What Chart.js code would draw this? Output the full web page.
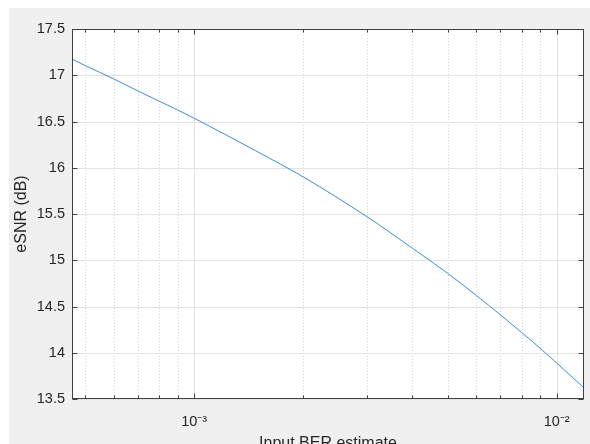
<!DOCTYPE html>
<html><head><meta charset="utf-8">
<script src="https://cdn.jsdelivr.net/npm/chart.js@4.4.0/dist/chart.umd.min.js"></script>
<style>
html,body{margin:0;padding:0;background:#fff;overflow:hidden;width:590px;height:444px;}
#wrap{position:absolute;left:9px;top:8px;width:581px;height:436px;background:#f0f0f0;}
canvas{display:block;}
</style></head><body>
<div id="wrap"><canvas id="c" width="581" height="436"></canvas></div>
<script>
// Data
const berValues  = [4.6e-4, 5e-4, 6e-4, 7e-4, 8e-4, 9e-4, 1e-3, 1.5e-3, 2e-3, 3e-3, 4e-3, 5e-3, 6e-3, 7e-3, 8e-3, 9e-3, 1e-2, 1.19e-2];
const esnrValues = [17.175, 17.105, 16.96, 16.83, 16.72, 16.625, 16.535, 16.17, 15.90, 15.47, 15.13, 14.86, 14.62, 14.41, 14.22, 14.05, 13.89, 13.62];

// Axis definitions
const xMin = 4.6e-4, xMax = 1.19e-2;
const xMajorTicks = [1e-3, 1e-2];
const xMajorLabels = ['10\u207B\u00B3', '10\u207B\u00B2'];
const xMinorTicks = [5e-4, 6e-4, 7e-4, 8e-4, 9e-4, 2e-3, 3e-3, 4e-3, 5e-3, 6e-3, 7e-3, 8e-3, 9e-3];
const yMin = 13.5, yMax = 17.5, yStep = 0.5;
const xTitle = 'Input BER estimate';
const yTitle = 'eSNR (dB)';

const points = berValues.map((b, i) => ({x: b, y: esnrValues[i]}));
const textColor = '#262626';
const fontFamily = '"Liberation Sans", Arial, Helvetica, sans-serif';

const matlabAxes = {
  id: 'matlabAxes',
  beforeDraw(chart) {
    const {ctx, chartArea: a} = chart;
    ctx.save();
    ctx.fillStyle = '#ffffff';
    ctx.fillRect(a.left, a.top, a.right - a.left, a.bottom - a.top);
    ctx.restore();
  },
  beforeDatasetsDraw(chart) {
    const {ctx, chartArea: a, scales: {x, y}} = chart;
    ctx.save();
    ctx.lineWidth = 1;
    ctx.strokeStyle = '#d6d6d6';
    ctx.setLineDash([1, 2]);
    xMinorTicks.forEach(v => {
      const px = Math.round(x.getPixelForValue(v)) + 0.5;
      ctx.beginPath(); ctx.moveTo(px, a.top); ctx.lineTo(px, a.bottom); ctx.stroke();
    });
    ctx.setLineDash([]);
    ctx.strokeStyle = '#e3e3e3';
    xMajorTicks.forEach(v => {
      const px = Math.round(x.getPixelForValue(v)) + 0.5;
      ctx.beginPath(); ctx.moveTo(px, a.top); ctx.lineTo(px, a.bottom); ctx.stroke();
    });
    y.ticks.forEach(t => {
      const py = Math.round(y.getPixelForValue(t.value)) + 0.5;
      ctx.beginPath(); ctx.moveTo(a.left, py); ctx.lineTo(a.right, py); ctx.stroke();
    });
    ctx.restore();
  },
  afterDatasetsDraw(chart) {
    const {ctx, chartArea: a, scales: {x, y}} = chart;
    ctx.save();
    ctx.lineWidth = 1;
    ctx.strokeStyle = '#404040';
    const L = Math.round(a.left) + 0.5, R = Math.round(a.right) - 0.5;
    const T = Math.round(a.top) + 0.5, B = Math.round(a.bottom) - 0.5;
    ctx.strokeRect(L, T, R - L, B - T);
    const tick = (px, len) => {
      ctx.beginPath(); ctx.moveTo(px, B); ctx.lineTo(px, B - len); ctx.stroke();
      ctx.beginPath(); ctx.moveTo(px, T); ctx.lineTo(px, T + len); ctx.stroke();
    };
    xMajorTicks.forEach(v => tick(Math.round(x.getPixelForValue(v)) + 0.5, 5));
    xMinorTicks.forEach(v => tick(Math.round(x.getPixelForValue(v)) + 0.5, 3));
    y.ticks.forEach(t => {
      const py = Math.round(y.getPixelForValue(t.value)) + 0.5;
      ctx.beginPath(); ctx.moveTo(L, py); ctx.lineTo(L + 5, py); ctx.stroke();
      ctx.beginPath(); ctx.moveTo(R, py); ctx.lineTo(R - 5, py); ctx.stroke();
    });
    ctx.restore();
  }
};

new Chart(document.getElementById('c'), {
  type: 'line',
  data: {
    datasets: [{
      data: points,
      borderColor: '#3a8fd6',
      borderWidth: 1,
      pointRadius: 0,
      fill: false,
      cubicInterpolationMode: 'monotone'
    }]
  },
  options: {
    responsive: false,
    animation: false,
    events: [],
    layout: {padding: {top: 21, right: 6, left: 0, bottom: 0}},
    plugins: {legend: {display: false}, tooltip: {enabled: false}},
    scales: {
      x: {
        type: 'logarithmic',
        min: xMin, max: xMax,
        afterBuildTicks: (scale) => {
          scale.ticks = xMajorTicks.map(v => ({value: v, major: true}));
        },
        afterFit: (scale) => { scale.height = 45; },
        grid: {display: false, drawTicks: false},
        border: {display: false},
        ticks: {
          autoSkip: false, maxRotation: 0, padding: 14,
          color: textColor,
          font: {family: fontFamily, size: 14.5},
          callback: (v) => {
            const i = xMajorTicks.findIndex(m => Math.abs(m - v) / m < 1e-6);
            return i >= 0 ? xMajorLabels[i] : '';
          }
        },
        title: {
          display: true, text: xTitle, color: textColor,
          font: {family: fontFamily, size: 16},
          padding: {top: 0, bottom: -9.6}
        }
      },
      y: {
        type: 'linear',
        min: yMin, max: yMax,
        afterFit: (scale) => { scale.width = 63; },
        grid: {display: false, drawTicks: false},
        border: {display: false},
        ticks: {
          stepSize: yStep, padding: 7,
          color: textColor,
          font: {family: fontFamily, size: 14.5},
          callback: (v) => String(Math.round(v * 10) / 10)
        },
        title: {
          display: true, text: yTitle, color: textColor,
          font: {family: fontFamily, size: 16},
          padding: {top: 3.4, bottom: 0}
        }
      }
    }
  },
  plugins: [matlabAxes]
});
</script>
</body></html>
